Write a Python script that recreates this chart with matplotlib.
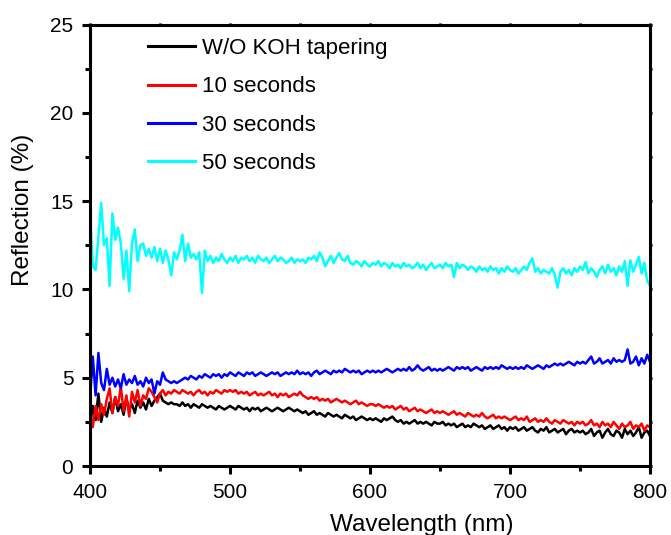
import numpy as np
import matplotlib
matplotlib.use("Agg")
import matplotlib.pyplot as plt
from matplotlib.ticker import MultipleLocator

plt.rcParams['font.family'] = ['Liberation Sans', 'DejaVu Sans']

wavelength = np.arange(400, 802, 2)

black_wo_koh = [
    2.3, 3.4, 2.6, 4.1, 2.5, 3.3, 2.8, 3.6, 3.0, 3.9, 3.1, 3.5, 2.9, 3.8, 3.2, 3.5, 3.0, 3.7, 3.3, 3.6, 3.2, 3.8, 3.4, 3.7, 3.9, 4.1, 3.7, 3.6, 3.5, 3.6, 3.5,
    3.5, 3.4, 3.6, 3.4, 3.5, 3.3, 3.5, 3.4, 3.3, 3.5, 3.4, 3.3, 3.4, 3.3, 3.2, 3.4, 3.3, 3.2, 3.3, 3.4,
    3.3, 3.2, 3.4, 3.3, 3.2, 3.3, 3.1, 3.3, 3.2, 3.3, 3.1, 3.2, 3.3, 3.2, 3.1, 3.2, 3.3, 3.2, 3.1, 3.2, 3.3, 3.2, 3.1, 3.2, 3.1,
    3.0, 3.1, 2.9, 3.0, 3.1, 2.9, 3.0, 2.9, 2.8, 3.0, 2.9, 2.8, 2.9, 2.8, 2.7, 2.9, 2.8, 2.7, 2.8, 2.6, 2.7, 2.8, 2.7, 2.6, 2.7,
    2.6, 2.7, 2.6, 2.5, 2.7, 2.6, 2.7, 2.8, 2.6, 2.5, 2.6, 2.4, 2.5, 2.4, 2.5, 2.6, 2.4, 2.5, 2.4, 2.5, 2.4, 2.3, 2.5, 2.4, 2.4,
    2.5, 2.3, 2.4, 2.3, 2.4, 2.2, 2.3, 2.4, 2.2, 2.3, 2.2, 2.4, 2.3, 2.2, 2.3, 2.1, 2.2, 2.3, 2.1, 2.2, 2.3, 2.1, 2.2, 2.0, 2.2,
    2.1, 2.2, 2.0, 2.1, 2.2, 2.0, 2.1, 2.2, 2.0, 1.9, 2.1, 2.0, 2.2, 1.9, 2.0, 2.1, 1.9, 2.0, 2.1, 1.8, 2.0, 2.1, 1.9, 2.0, 1.9,
    2.0, 1.8, 1.9, 2.1, 1.7, 1.9, 2.0, 1.6, 1.9, 2.1, 1.8, 1.7, 2.0, 1.9, 1.6, 2.1, 1.8, 2.0, 1.7, 1.9, 2.2, 1.6, 1.9, 2.0, 1.7,
]

red_10s = [
    3.2, 2.2, 3.4, 2.6, 3.5, 2.9, 3.8, 4.4, 3.0, 3.9, 3.4, 4.5, 3.1, 4.0, 2.8, 4.2, 3.6, 4.3, 3.4, 4.0, 3.8, 4.4, 4.2, 3.9, 3.6, 4.1, 4.3, 4.0, 4.2, 4.1, 4.3,
    4.2, 4.1, 4.3, 4.2, 4.1, 4.2, 4.0, 4.2, 4.3, 4.1, 4.2, 4.0, 4.2, 4.1, 4.3, 4.2, 4.1, 4.3, 4.2, 4.3,
    4.2, 4.3, 4.1, 4.2, 4.1, 4.2, 4.0, 4.1, 4.2, 4.0, 4.1, 4.0, 4.1, 4.2, 4.0, 4.1, 3.9, 4.1, 4.0, 4.1, 3.9, 4.0, 4.1, 4.0, 4.2,
    4.0, 3.9, 3.8, 3.9, 3.8, 3.9, 3.7, 3.8, 3.7, 3.8, 3.6, 3.7, 3.8, 3.7, 3.6, 3.7, 3.6, 3.5, 3.6, 3.7, 3.5, 3.6, 3.5, 3.4, 3.5,
    3.5, 3.4, 3.5, 3.4, 3.3, 3.4, 3.3, 3.4, 3.2, 3.3, 3.4, 3.2, 3.3, 3.1, 3.2, 3.3, 3.1, 3.2, 3.1, 3.0, 3.1, 3.2, 3.0, 3.1, 3.0,
    3.1, 3.0, 2.9, 3.0, 3.1, 2.9, 3.0, 2.9, 2.8, 3.0, 2.9, 2.8, 2.9, 2.8, 3.0, 2.8, 2.7, 2.8, 2.9, 2.7, 2.8, 2.7, 2.8, 2.7, 2.6,
    2.7, 2.8, 2.6, 2.7, 2.6, 2.8, 2.5, 2.6, 2.7, 2.5, 2.6, 2.5, 2.7, 2.5, 2.4, 2.6, 2.5, 2.4, 2.6, 2.5, 2.4, 2.5, 2.3, 2.5, 2.4,
    2.5, 2.3, 2.4, 2.6, 2.3, 2.4, 2.2, 2.5, 2.3, 2.4, 2.2, 2.5, 2.3, 2.1, 2.4, 2.2, 2.3, 2.5, 2.1, 2.3, 2.2, 2.4, 2.0, 2.3, 2.2,
]

blue_30s = [
    3.8, 6.2, 4.0, 6.4, 4.7, 4.3, 5.5, 4.6, 5.0, 4.5, 4.9, 4.4, 5.2, 4.6, 4.9, 4.7, 5.1, 4.6, 4.8, 4.5, 5.0, 4.7, 4.9, 4.1, 4.8, 4.6, 5.3, 4.9, 4.8, 4.7, 4.8,
    4.7, 4.8, 4.9, 5.0, 4.9, 5.1, 5.0, 4.9, 5.1, 5.0, 5.2, 5.1, 5.0, 5.2, 5.1, 5.2, 5.0, 5.2, 5.1, 5.3,
    5.2, 5.1, 5.3, 5.2, 5.1, 5.3, 5.2, 5.3, 5.1, 5.2, 5.3, 5.2, 5.1, 5.2, 5.3, 5.2, 5.3, 5.1, 5.2, 5.3, 5.2, 5.3, 5.2, 5.4, 5.2,
    5.3, 5.2, 5.3, 5.1, 5.3, 5.4, 5.2, 5.3, 5.4, 5.3, 5.2, 5.4, 5.3, 5.4, 5.3, 5.5, 5.4, 5.3, 5.4, 5.3, 5.4, 5.2, 5.3, 5.4, 5.3,
    5.4, 5.3, 5.4, 5.3, 5.4, 5.5, 5.4, 5.3, 5.4, 5.5, 5.4, 5.5, 5.4, 5.6, 5.4, 5.5, 5.7, 5.5, 5.4, 5.5, 5.6, 5.4, 5.5, 5.4, 5.5,
    5.4, 5.5, 5.6, 5.5, 5.4, 5.6, 5.5, 5.6, 5.5, 5.6, 5.4, 5.5, 5.6, 5.5, 5.4, 5.6, 5.5, 5.6, 5.5, 5.6, 5.5, 5.7, 5.6, 5.5, 5.6,
    5.5, 5.6, 5.5, 5.6, 5.5, 5.7, 5.6, 5.5, 5.6, 5.7, 5.6, 5.5, 5.7, 5.6, 5.7, 5.8, 5.7, 5.8, 5.7, 5.8, 5.9, 5.8, 5.7, 5.9, 5.8,
    5.9, 5.8, 6.0, 6.2, 5.8, 5.9, 6.1, 5.8, 5.9, 6.0, 5.8, 6.1, 5.9, 6.0, 5.9, 6.0, 6.6, 5.8, 5.9, 6.2, 5.7, 6.1, 5.8, 6.3, 5.9,
]

cyan_50s = [
    14.6, 11.3, 11.1, 13.0, 14.9, 12.5, 12.9, 10.2, 14.3, 12.8, 13.5, 12.6, 10.6, 12.2, 9.9, 12.6, 13.4, 11.6, 12.5, 12.6, 11.9, 12.3, 11.8, 12.4, 11.6, 12.3, 11.5, 12.2, 11.7, 10.8, 12.1,
    11.7, 12.2, 13.1, 11.6, 12.6, 11.8, 12.0, 11.7, 12.1, 9.8, 12.2, 11.6, 11.9, 11.5, 11.8, 11.6, 12.0, 11.7, 11.5, 11.8,
    11.6, 11.9, 11.5, 11.8, 11.7, 11.9, 11.6, 11.8, 11.5, 11.9, 11.7, 11.6, 11.8, 11.5, 11.7, 11.9, 11.6, 11.8, 11.7, 11.5, 11.6, 11.8, 11.5, 11.7, 11.6,
    11.7, 11.5, 11.8, 11.7, 11.9, 11.6, 12.1, 11.8, 11.3, 11.6, 11.9, 11.5, 11.8, 12.05, 11.7, 11.6, 11.9, 11.5, 11.4, 11.6, 11.5, 11.3, 11.6, 11.4, 11.3,
    11.5, 11.4, 11.6, 11.3, 11.5, 11.4, 11.2, 11.5, 11.3, 11.4, 11.2, 11.5, 11.3, 11.4, 11.2, 11.3, 11.5, 11.2, 11.4, 11.1, 11.3, 11.5, 11.2, 11.3, 11.4,
    11.2, 11.5, 11.3, 11.4, 10.7, 11.5, 11.2, 11.4, 11.3, 11.1, 11.3, 11.2, 11.0, 11.3, 11.1, 11.2, 11.0, 11.3, 11.1, 11.2, 10.9, 11.2, 11.0, 11.3, 11.1,
    11.0, 11.2, 10.9, 11.1, 11.3, 11.1, 11.5, 11.75, 11.0, 11.2, 10.9, 11.1, 11.0, 10.9, 11.2, 10.8, 10.1, 11.0, 11.2, 10.9, 11.1, 10.8, 11.2, 11.0, 11.3,
    11.1, 11.55, 10.9, 11.2, 11.0, 10.7, 11.1, 11.3, 10.9, 11.4, 11.0, 11.2, 10.8, 11.3, 11.0, 11.6, 10.2, 11.65, 11.0, 11.4, 11.85, 10.9, 11.5, 10.5, 10.2,
]

labels = ["W/O KOH tapering", "10 seconds", "30 seconds", "50 seconds"]
colors = ["#000000", "#ff0000", "#0000ff", "#00ffff"]
series = [black_wo_koh, red_10s, blue_30s, cyan_50s]

W, H = 671, 535
fig = plt.figure(figsize=(W / 100, H / 100), dpi=100)
ax_h = 466 - 24.5
ax = fig.add_axes([90 / W, 1 - 466 / H, (650 - 90) / W, ax_h / H])

for ys, c, lab in zip(series, colors, labels):
    ax.plot(wavelength, ys, color=c, lw=1.8, label=lab)

ax.set_xlim(400, 800)
ax.set_ylim(0, 25)
ax.xaxis.set_major_locator(MultipleLocator(100))
ax.xaxis.set_minor_locator(MultipleLocator(50))
ax.yaxis.set_major_locator(MultipleLocator(5))
ax.yaxis.set_minor_locator(MultipleLocator(2.5))

for s in ax.spines.values():
    s.set_linewidth(2.2)

ax.tick_params(which='major', direction='out', length=6, width=2.2, labelsize=15, pad=6)
ax.tick_params(which='minor', direction='out', length=3.5, width=2.2)
ax.tick_params(which='both', top=True, right=True)
for t in ax.xaxis.get_ticklines(minor=False)[1::2] + ax.xaxis.get_ticklines(minor=True)[1::2]:
    t.set_markersize(1.5)
for t in ax.yaxis.get_ticklines(minor=False)[1::2] + ax.yaxis.get_ticklines(minor=True)[1::2]:
    t.set_markersize(1.5)

ax.set_xlabel("Wavelength (nm)", fontsize=17.5)
ax.set_ylabel("Reflection (%)", fontsize=17.5)
ax.xaxis.set_label_coords((422 - 90) / 560, (466 - 514) / ax_h)
ax.yaxis.set_label_coords((34 - 90) / 560, (466 - 210) / ax_h)

leg = ax.legend(loc='upper left', bbox_to_anchor=(128 / W, 1 - 18 / H), bbox_transform=fig.transFigure,
                frameon=False, fontsize=16, handlelength=2.1, handletextpad=0.35,
                labelspacing=0.78, borderpad=0.4)
for h in leg.get_lines():
    h.set_linewidth(2.2)

fig.savefig("out.png", dpi=100)
